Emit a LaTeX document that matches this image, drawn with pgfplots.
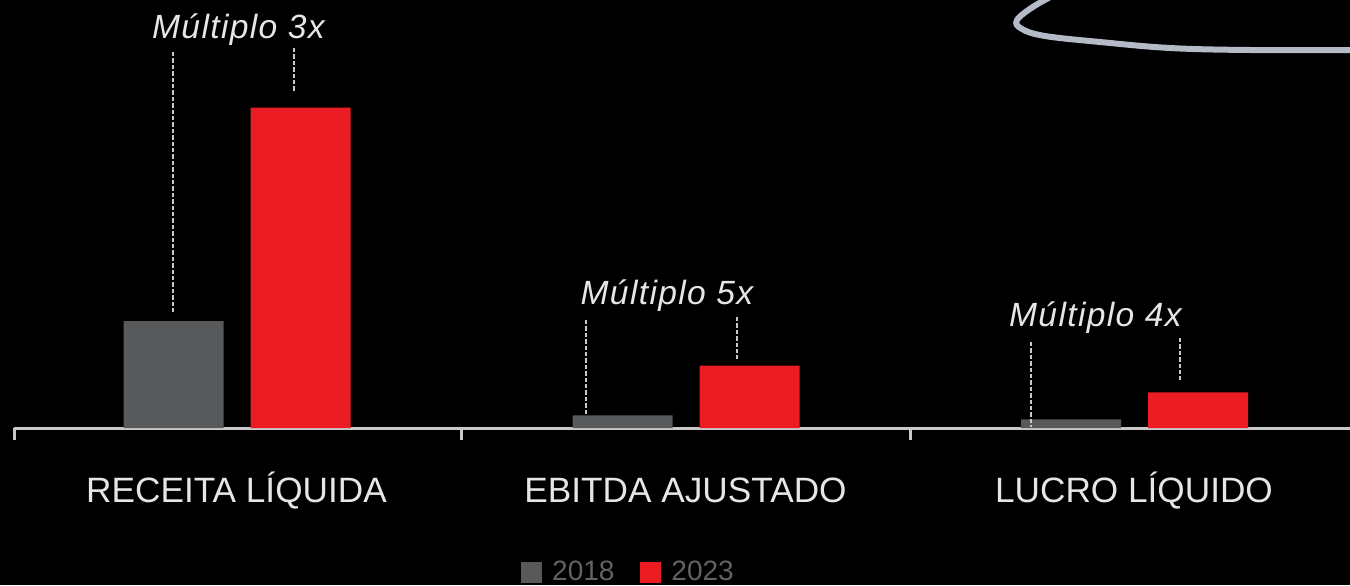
\documentclass[border=0pt]{standalone}
\usepackage{pgfplots}
\pgfplotsset{compat=1.18}
\usepackage{fontspec}
\setmainfont{Liberation Sans}
\newfontfamily\annotfont[LetterSpace=4]{Liberation Sans}
\definecolor{bargray}{HTML}{58595B}
\definecolor{barred}{HTML}{EC1C24}
\definecolor{axisgray}{HTML}{C8C8C8}
\definecolor{labelwhite}{HTML}{E6E6E6}
\definecolor{leggray}{HTML}{626262}
\definecolor{ovalcol}{HTML}{B4BAC6}
\tikzset{
  annot/.style={draw=axisgray, line width=0.75pt, dash pattern=on 2.2pt off 1pt},
  annottext/.style={text=labelwhite, font=\annotfont\fontsize{16.8}{20}\selectfont\itshape, anchor=base},
}
\begin{document}
\begin{tikzpicture}
\fill[black] (-7pt,-78.5pt) rectangle (668pt,214pt);
\begin{axis}[
  at={(0pt,0pt)}, anchor=south west,
  scale only axis, width=668pt, height=214pt,
  xmin=14, xmax=1350, ymin=0, ymax=428,
  enlargelimits=false,
  axis x line*=bottom, axis y line=none,
  x axis line style={draw=axisgray, line width=1.5pt},
  ybar, bar width=50pt,
  xtick={236.5,685.5,1134},
  xticklabels={RECEITA LÍQUIDA, EBITDA AJUSTADO, LUCRO LÍQUIDO},
  major tick length=0pt,
  minor xtick={14,461,910},
  minor tick length=6pt,
  tick align=outside,
  tick style={draw=axisgray, line width=1.5pt},
  xticklabel style={font=\fontsize{17.6}{20}\selectfont, text=labelwhite, anchor=base, yshift=-37pt},
  legend style={at={(0.4607,-0.3376)}, anchor=center, draw=none, fill=none,
    text=leggray, font=\fontsize{14}{16}\selectfont, legend columns=2,
    /tikz/every odd column/.append style={column sep=3pt},
    /tikz/every even column/.append style={column sep=11pt}},
]
\addplot[fill=bargray, draw=none, bar shift=-31.5pt,
  legend image code/.code={\fill[bargray] (0pt,-5.25pt) rectangle (10.5pt,5.25pt);}]
  coordinates {(236.5,107) (685.5,12.7) (1134,8.7)};
\addlegendentry{2018}
\addplot[fill=barred, draw=none, bar shift=32pt,
  legend image code/.code={\fill[barred] (0pt,-5.25pt) rectangle (10.5pt,5.25pt);}]
  coordinates {(236.5,320.5) (685.5,62.3) (1134,35.7)};
\addlegendentry{2023}
\addplot[ovalcol, line width=3pt, forget plot, mark=none, smooth, tension=0.6]
  coordinates {(1068,440) (1036,423) (1017,408) (1022,399) (1045,392) (1100,386) (1170,380) (1250,378) (1365,378)};
\draw[annot] (axis cs:173,376) -- (axis cs:173,116);
\draw[annot] (axis cs:294,380) -- (axis cs:294,336);
\draw[annot] (axis cs:586,108) -- (axis cs:586,13);
\draw[annot] (axis cs:737,111) -- (axis cs:737,69);
\draw[annot] (axis cs:1031,86) -- (axis cs:1031,1);
\draw[annot] (axis cs:1180,90) -- (axis cs:1180,48);
\node[annottext] at (axis cs:238.5,390) {Múltiplo 3x};
\node[annottext] at (axis cs:667,124) {Múltiplo 5x};
\node[annottext] at (axis cs:1095.5,102) {Múltiplo 4x};
\end{axis}
\pgfresetboundingbox
\useasboundingbox (-7pt,-78.5pt) rectangle (668pt,214pt);
\end{tikzpicture}
\end{document}
